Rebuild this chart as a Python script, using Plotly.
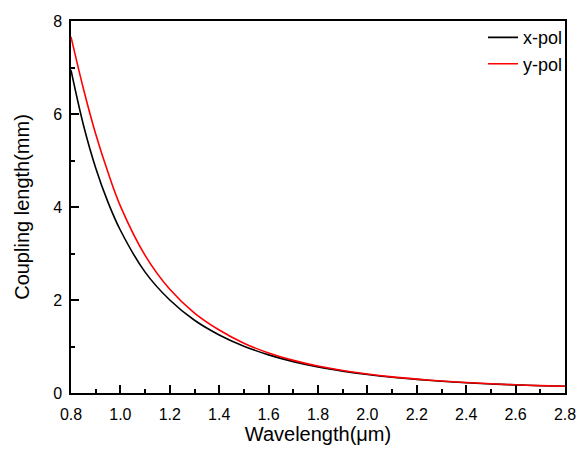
import plotly.graph_objects as go

wavelength = [0.80, 0.85, 0.90, 0.95, 1.00, 1.10, 1.20, 1.30, 1.40, 1.50, 1.60, 1.70,
              1.80, 1.90, 2.00, 2.10, 2.20, 2.30, 2.40, 2.50, 2.60, 2.70, 2.80]
x_pol = [6.94, 5.77, 4.84, 4.10, 3.50, 2.60, 2.00, 1.564, 1.249, 1.007, 0.820, 0.675,
         0.561, 0.471, 0.398, 0.339, 0.292, 0.253, 0.221, 0.195, 0.174, 0.157, 0.144]
y_pol = [7.66, 6.55, 5.57, 4.74, 4.02, 2.96, 2.23, 1.72, 1.355, 1.072, 0.861, 0.702,
         0.581, 0.485, 0.408, 0.346, 0.298, 0.258, 0.225, 0.198, 0.176, 0.159, 0.145]

FONT = "Arial, 'Liberation Sans', sans-serif"

fig = go.Figure()
fig.add_trace(go.Scatter(x=wavelength, y=x_pol, mode="lines", name="x-pol",
                         line=dict(color="black", width=1.6, shape="spline", smoothing=1.0)))
fig.add_trace(go.Scatter(x=wavelength, y=y_pol, mode="lines", name="y-pol",
                         line=dict(color="#ff0000", width=1.6, shape="spline", smoothing=1.0)))

axis_common = dict(
    showline=True, linecolor="black", linewidth=1.5, mirror=True,
    ticks="inside", ticklen=8, tickwidth=1.5, tickcolor="black",
    showgrid=False, zeroline=False,
    tickfont=dict(family=FONT, size=16, color="black"),
)

fig.update_xaxes(
    range=[0.8, 2.8], dtick=0.2, tick0=0.8, tickformat=".1f",
    ticklabelstandoff=6,
    minor=dict(ticks="inside", ticklen=4, tickwidth=1.5, tickcolor="black", dtick=0.1, showgrid=False),
    title=dict(text="Wavelength(μm)", font=dict(family=FONT, size=20, color="black"), standoff=1),
    **axis_common,
)
fig.update_yaxes(
    range=[0, 8], dtick=2, tick0=0,
    ticklabelstandoff=4,
    minor=dict(ticks="inside", ticklen=4, tickwidth=1.5, tickcolor="black", dtick=1, showgrid=False),
    title=dict(text="Coupling length(mm)", font=dict(family=FONT, size=20, color="black"), standoff=18),
    **axis_common,
)

fig.update_layout(
    width=587, height=452,
    margin=dict(l=71, r=11, t=21, b=59),
    paper_bgcolor="white", plot_bgcolor="white",
    showlegend=True,
    legend=dict(x=0.834, y=1.005, xanchor="left", yanchor="top",
                font=dict(family=FONT, size=18, color="black"),
                bgcolor="rgba(0,0,0,0)", tracegroupgap=0, itemwidth=30),
)

fig.write_html("out.html")
